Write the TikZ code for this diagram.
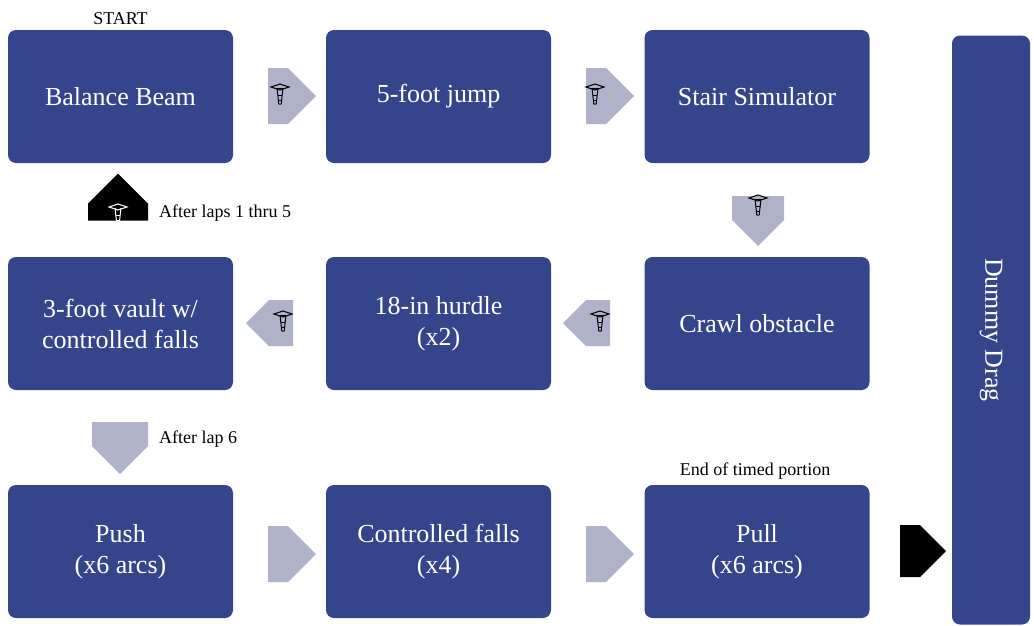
\documentclass[tikz,border=0pt]{standalone}
\usepackage{fontspec}
\setmainfont{Liberation Serif}
\usetikzlibrary{shapes.arrows}
\definecolor{boxblue}{RGB}{53,69,140}
\definecolor{arrgray}{RGB}{175,178,201}
\tikzset{
 box/.style={draw=none,fill=boxblue,rounded corners=8pt,text=white,font=\fontsize{26}{31}\selectfont,align=center,minimum width=225pt,minimum height=133pt,inner sep=0pt},
 blk/.style={single arrow,draw=none,fill=#1,minimum height=48pt,minimum width=56pt,single arrow head extend=0pt,single arrow tip angle=90,inner sep=0pt},
 lbl/.style={font=\fontsize{18}{21}\selectfont,inner sep=0pt},
 pics/cone/.style={code={
  \draw[line width=1pt,line join=round] (-3,-8) -- (-1.2,8) -- (1.2,8) -- (3,-8);
  \draw[line width=1pt] (-2.2,-1) -- (2.2,-1) (-1.6,4) -- (1.6,4);
  \draw[line width=1pt] (-9,-9) -- (0,-12) -- (9,-9) -- (0,-6) -- cycle;
  \draw[line width=1pt] (-3,-8) -- (3,-8);
 }},
 pics/wcone/.style={code={
  \draw[white,line width=1pt,line join=round] (-3,-8) -- (-1.2,8) -- (1.2,8) -- (3,-8);
  \draw[white,line width=1pt] (-2.2,-1) -- (2.2,-1) (-1.6,4) -- (1.6,4);
  \draw[white,line width=1pt] (-9,-9) -- (0,-12) -- (9,-9) -- (0,-6) -- cycle;
 }}
}
\begin{document}
\begin{tikzpicture}[x=1pt,y=-1pt]
\useasboundingbox (0,0) rectangle (1034,625);
\node[box] (b1) at (120.5,96.5) {Balance Beam};
\node[box] (b2) at (438.5,96.5) {5-foot jump};
\node[box] (b3) at (757,96.5) {Stair Simulator};
\node[box] (b4) at (120.5,323.5) {3-foot vault w/\\controlled falls};
\node[box] (b5) at (438.5,323.5) {18-in hurdle\\(x2)};
\node[box] (b6) at (757,323.5) {Crawl obstacle};
\node[box] (b7) at (120.5,551.5) {Push\\(x6 arcs)};
\node[box] (b8) at (438.5,551.5) {Controlled falls\\(x4)};
\node[box] (b9) at (757,551.5) {Pull\\(x6 arcs)};
\node[box,minimum width=78pt,minimum height=589pt] (dd) at (991,330) {};
\node[text=white,font=\fontsize{26}{31}\selectfont,rotate=-90] (ddt) at (dd.center) {Dummy Drag};
\node[lbl,anchor=south] (start) at (120.5,25) {START};
\node[lbl,anchor=south] (end) at (755,480) {End of timed portion};
\node[blk=arrgray] (a1) at (278,96) {};
\node[blk=arrgray] (a2) at (596,96) {};
\node[blk=arrgray,shape border rotate=270,minimum height=50pt,minimum width=52pt] (a3) at (758,208) {};
\node[blk=arrgray,shape border rotate=180,minimum height=47pt,minimum width=46pt] (a4) at (598,323) {};
\node[blk=arrgray,shape border rotate=180,minimum height=47pt,minimum width=46pt] (a5) at (281,323) {};
\node[blk=black,shape border rotate=90,minimum height=47pt,minimum width=60pt] (a6) at (118,212) {};
\node[blk=arrgray,shape border rotate=270,minimum height=52pt,minimum width=56pt] (a7) at (120,434) {};
\node[blk=arrgray] (a8) at (278,554) {};
\node[blk=arrgray] (a9) at (596,554) {};
\node[blk=black,minimum height=46pt,minimum width=52pt] (a10) at (910,551) {};
\pic at (280,96) {cone};
\pic at (595,96) {cone};
\pic at (758,207) {cone};
\pic at (600,323) {cone};
\pic at (283,323) {cone};
\pic at (118,216) {wcone};
\node[lbl,anchor=west] (l1) at (159,213) {After laps 1 thru 5};
\node[lbl,anchor=west] (l2) at (159,439) {After lap 6};
\end{tikzpicture}
\end{document}
